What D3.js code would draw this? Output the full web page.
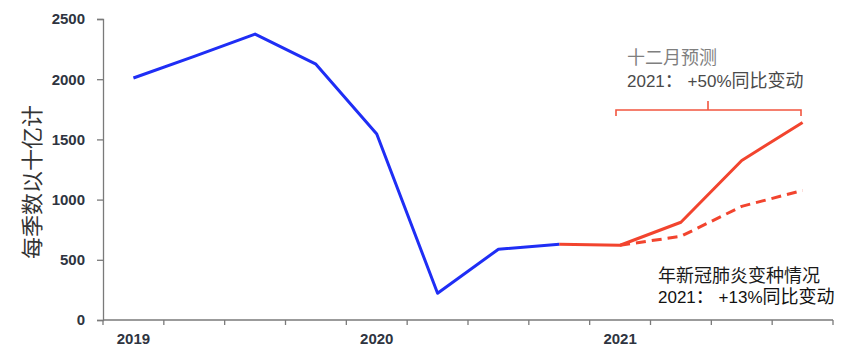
<!DOCTYPE html>
<html><head><meta charset="utf-8">
<script src="https://cdn.jsdelivr.net/npm/d3@7"></script>
<style>body{margin:0;background:#fff;}svg{display:block;}</style>
</head><body>
<svg id="c" width="846" height="347"></svg>
<script>
const quarters = ["2019Q1","2019Q2","2019Q3","2019Q4","2020Q1","2020Q2","2020Q3","2020Q4","2021Q1","2021Q2","2021Q3","2021Q4"];
const yearLabels = [{q:"2019Q1",label:"2019"},{q:"2020Q1",label:"2020"},{q:"2021Q1",label:"2021"}];
const yTicks = [0,500,1000,1500,2000,2500];
const actualQ = ["2019Q1","2019Q2","2019Q3","2019Q4","2020Q1","2020Q2","2020Q3","2020Q4"];
const actualV = [2010,2190,2375,2125,1545,222,588,630];
const forecastQ = ["2020Q4","2021Q1","2021Q2","2021Q3","2021Q4"];
const forecastV = [630,621,812,1325,1640];
const variantQ = ["2021Q1","2021Q2","2021Q3","2021Q4"];
const variantV = [621,695,944,1076];

const svg = d3.select("#c");
const L = 103, R = 833, T = 19, B = 320;
const x = d3.scaleBand().domain(quarters).range([L, R]).padding(0);
const y = d3.scaleLinear().domain([0, 2500]).range([B, T]);
const cx = q => x(q) + x.bandwidth() / 2;

const axisColor = "#7a7a7a";
const tickFont = "'Liberation Sans', Arial, sans-serif";

// Y axis
const ya = svg.append("g").attr("transform", `translate(${L},0)`)
  .call(d3.axisLeft(y).tickValues(yTicks).tickSize(6).tickPadding(12).tickFormat(d3.format("d")));
ya.select(".domain").attr("stroke", axisColor).attr("stroke-width", 1.3);
ya.selectAll(".tick line").attr("stroke", axisColor).attr("stroke-width", 1.3);
ya.selectAll(".tick text").attr("fill", "#2e3440").style("font-family", tickFont)
  .style("font-size", "15px").style("font-weight", "bold");

// X axis (ticks at quarter boundaries)
const xg = svg.append("g");
xg.append("line").attr("x1", L).attr("x2", R).attr("y1", B).attr("y2", B)
  .attr("stroke", axisColor).attr("stroke-width", 1.3);
const edges = quarters.map(q => x(q)).concat([x.range()[1]]);
xg.selectAll("line.t").data(edges).enter().append("line").attr("class", "t")
  .attr("x1", d => d).attr("x2", d => d).attr("y1", B).attr("y2", B + 5)
  .attr("stroke", axisColor).attr("stroke-width", 1.3);
xg.selectAll("text").data(yearLabels).enter().append("text")
  .attr("x", d => cx(d.q)).attr("y", B + 24).attr("text-anchor", "middle")
  .attr("fill", "#2e3440").style("font-family", tickFont).style("font-size", "15px").style("font-weight", "bold")
  .text(d => d.label);

// Y axis title
svg.append("text").attr("transform", "translate(40,182) rotate(-90)").attr("text-anchor", "middle")
  .attr("fill", "#333").style("font-family", "'Noto Sans CJK SC', sans-serif").style("font-size", "22px")
  .text("每季数以十亿计");

const line = d3.line().x(d => cx(d[0])).y(d => y(d[1]));
const zip = (a, b) => a.map((q, i) => [q, b[i]]);

svg.append("path").datum(zip(variantQ, variantV)).attr("d", line).attr("fill", "none")
  .attr("stroke", "#f2442e").attr("stroke-width", 3).attr("stroke-dasharray", "10,6");
svg.append("path").datum(zip(forecastQ, forecastV)).attr("d", line).attr("fill", "none")
  .attr("stroke", "#f2442e").attr("stroke-width", 3).attr("stroke-linejoin", "round");
svg.append("path").datum(zip(actualQ, actualV)).attr("d", line).attr("fill", "none")
  .attr("stroke", "#1f2ef5").attr("stroke-width", 3).attr("stroke-linejoin", "round");

// Bracket
svg.append("path").attr("d", "M616,116 L616,110 L801,110 L801,116 M708,110 L708,101")
  .attr("fill", "none").attr("stroke", "#f2553f").attr("stroke-width", 1.6);

// Annotations
function mixed(g, parts, xPos, yPos, color) {
  const t = g.append("text").attr("x", xPos).attr("y", yPos).attr("fill", color)
    .style("white-space", "pre");
  parts.forEach(p => t.append("tspan").style("font-size", p[1] + "px")
    .style("font-family", p[2] ? "'Noto Sans CJK SC', sans-serif" : "'Liberation Sans', Arial, sans-serif").text(p[0]));
}
mixed(svg, [["十二月预测", 18, true]], 627, 64, "#7f7f7f");
mixed(svg, [["2021", 17], ["：", 18, true], [" +50%", 17], ["同比变动", 18, true]], 627, 87, "#4a4a4a");
mixed(svg, [["年新冠肺炎变种情况", 18, true]], 658, 282, "#1a1a1a");
mixed(svg, [["2021", 17], ["：", 18, true], [" +13%", 17], ["同比变动", 18, true]], 658, 303, "#111");
</script>
</body></html>
